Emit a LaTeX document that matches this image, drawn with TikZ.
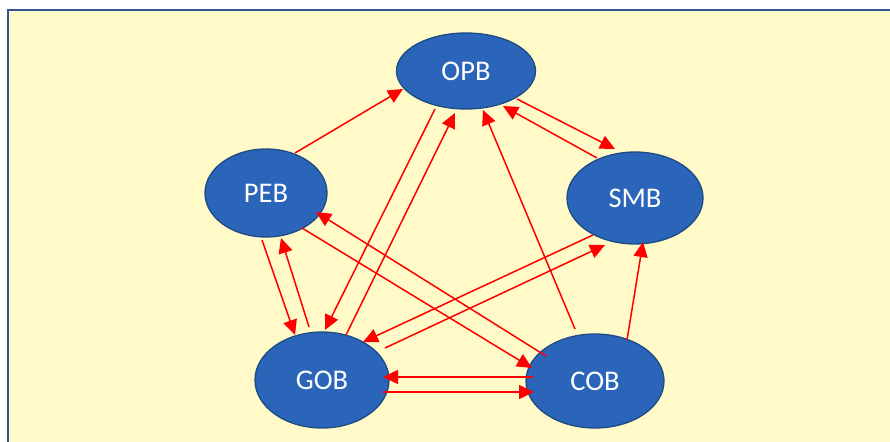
\documentclass[tikz,border=0pt]{standalone}
\usepackage{fontspec}
\setmainfont{Carlito}
\usetikzlibrary{arrows.meta,calc,shapes.geometric}
\definecolor{panelfill}{RGB}{255,250,200}
\definecolor{panelline}{RGB}{47,85,151}
\definecolor{bubblefill}{RGB}{43,101,186}
\definecolor{bubbleline}{RGB}{30,75,130}
\definecolor{linkred}{RGB}{255,0,0}
\tikzset{
  bubble/.style={ellipse, draw=bubbleline, line width=1.3pt, fill=bubblefill,
    text=white, inner sep=0pt, font=\fontsize{28.5}{32}\selectfont},
  link/.style={draw=linkred, line width=1.5pt,
    -{Triangle[length=15pt,width=14pt]}}
}
\begin{document}
\begin{tikzpicture}[x=1pt,y=-1pt]
  \useasboundingbox (0,0) rectangle (890,441);
  \fill[white] (0,0) rectangle (890,441);
  \filldraw[fill=panelfill, draw=panelline, line width=2pt] (8.3,10.5) rectangle (900,460);

  \node[bubble, minimum width=139pt, minimum height=76pt] (opb) at (466,71) {OPB};
  \node[bubble, minimum width=122pt, minimum height=88pt] (peb) at (266,193) {PEB};
  \node[bubble, minimum width=136pt, minimum height=92pt] (smb) at (635,198) {SMB};
  \node[bubble, minimum width=134pt, minimum height=96pt] (gob) at (322,380) {GOB};
  \node[bubble, minimum width=138pt, minimum height=94pt] (cob) at (595,381) {COB};

  % links between the bubbles
  \draw[link] ($(peb)+(29,-40)$) -- ($(opb)+(-63,18)$);
  \draw[link] ($(opb)+(51,28)$) -- ($(smb)+(-20,-49)$);
  \draw[link] ($(smb)+(-38,-40)$) -- ($(opb)+(37,35)$);
  \draw[link] ($(opb)+(-31,38)$) -- ($(gob)+(3,-50)$);
  \draw[link] ($(gob)+(24,-45)$) -- ($(opb)+(-11,42)$);
  \draw[link] ($(cob)+(-20,-52)$) -- ($(opb)+(17,39)$);
  \draw[link] ($(cob)+(32,-41)$) -- ($(smb)+(8,44)$);
  \draw[link] ($(smb)+(-42,37)$) -- ($(gob)+(41,-38)$);
  \draw[link] ($(gob)+(63,-32)$) -- ($(smb)+(-30,47)$);
  \draw[link] ($(peb)+(-4,47)$) -- ($(gob)+(-27,-45)$);
  \draw[link] ($(gob)+(-13,-53)$) -- ($(peb)+(15,45)$);
  \draw[link] ($(peb)+(36,35)$) -- ($(cob)+(-63,-13)$);
  \draw[link] ($(cob)+(-49,-25)$) -- ($(peb)+(50,19)$);
  \draw[link] ($(cob)+(-62,-4)$) -- ($(gob)+(61,-3)$);
  \draw[link] ($(gob)+(61,12)$) -- ($(cob)+(-61,11)$);
\end{tikzpicture}
\end{document}
